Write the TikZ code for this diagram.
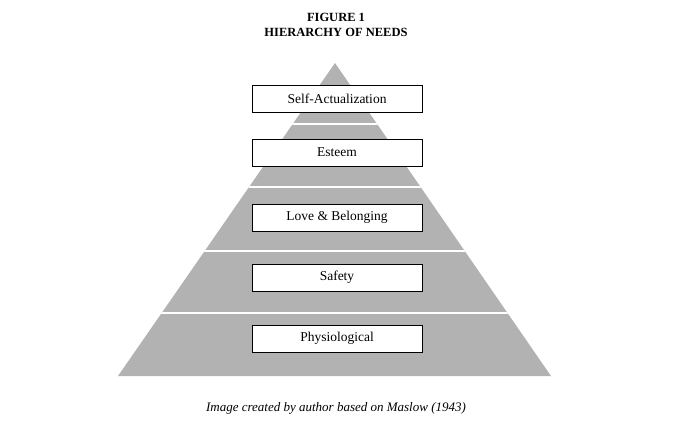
\documentclass[tikz,border=0pt]{standalone}
\usepackage{fontspec}
\setmainfont{Liberation Serif}
\begin{document}
\begin{tikzpicture}[x=1pt,y=-1pt,
    needbox/.style={rectangle,draw,fill=white,line width=0.8pt,minimum width=170pt,minimum height=27pt,inner sep=0pt,font=\fontsize{13.5}{15}\selectfont},
    titletext/.style={font=\bfseries\fontsize{12.5}{15}\selectfont,align=center}]
    \useasboundingbox (0,0) rectangle (673,424);
    % pyramid
    \fill[gray!60] (118,376) -- (335,63) -- (551,376) -- cycle;
    \begin{scope}
        \clip (118,376) -- (335,63) -- (551,376) -- cycle;
        \foreach \y in {124,187,251,313} {
            \draw[white,line width=2pt] (100,\y) -- (580,\y);
        }
    \end{scope}
    % title
    \node[titletext] (title) at (336,25) {FIGURE 1\\HIERARCHY OF NEEDS};
    % levels
    \node[needbox] (selfact) at (337,99) {Self-Actualization};
    \node[needbox] (esteem) at (337,152.5) {Esteem};
    \node[needbox] (love) at (337,217.5) {Love \& Belonging};
    \node[needbox] (safety) at (337,277.5) {Safety};
    \node[needbox] (physio) at (337,338.5) {Physiological};
    % caption
    \node[font=\itshape\fontsize{13}{15}\selectfont] (caption) at (336,408) {Image created by author based on Maslow (1943)};
\end{tikzpicture}
\end{document}
